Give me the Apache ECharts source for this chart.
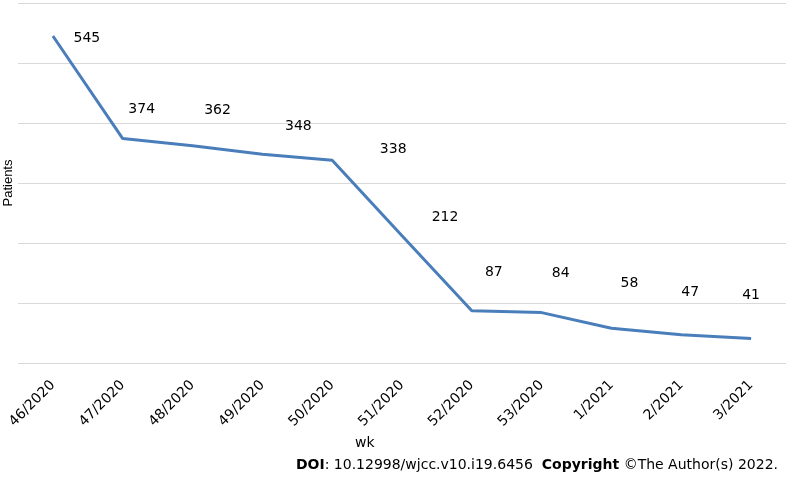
<!DOCTYPE html>
<html>
<head>
<meta charset="utf-8">
<script src="https://cdn.jsdelivr.net/npm/echarts@6/dist/echarts.min.js"></script>
<style>html,body{margin:0;padding:0;background:#fff;}#c{width:786px;height:482px;}</style>
</head>
<body>
<div id="c"></div>
<script>
var categories = ['46/2020','47/2020','48/2020','49/2020','50/2020','51/2020','52/2020','53/2020','1/2021','2/2021','3/2021'];
var patients = [545, 374, 362, 348, 338, 212, 87, 84, 58, 47, 41];
var yTicks = {min: 0, max: 600, interval: 100};

// label placement offsets (styling only)
var labelOffsets = [[34,2],[19,-29],[25,-35],[36,-28],[61,-11],[43,-18],[22,-38],[19,-39],[18,-45],[9,-42],[0,-43]];

var chart = echarts.init(document.getElementById('c'));
var data = patients.map(function(v, i){
  return {value: v, label: {offset: labelOffsets[i]}};
});
chart.setOption({
  animation: false,
  grid: {left: 18, right: 0, top: 3, bottom: 119, containLabel: false, outerBoundsMode: 'none'},
  xAxis: {
    type: 'category',
    data: categories,
    boundaryGap: true,
    axisLine: {show: false},
    axisTick: {show: false},
    axisLabel: {rotate: 45, margin: 20, fontSize: 14, color: '#000', fontFamily: 'DejaVu Sans', interval: 0}
  },
  yAxis: {
    type: 'value',
    min: yTicks.min, max: yTicks.max, interval: yTicks.interval,
    axisLabel: {show: false},
    axisLine: {show: false},
    axisTick: {show: false},
    splitLine: {lineStyle: {color: '#d9d9d9', width: 1}},
    name: 'Patients',
    nameLocation: 'middle',
    nameRotate: 90,
    nameGap: 3,
    nameTextStyle: {fontSize: 13, color: '#000', fontFamily: 'Liberation Sans'}
  },
  series: [{
    type: 'line',
    data: data,
    symbol: 'circle',
    symbolSize: 0.1,
    showSymbol: true,
    itemStyle: {color: '#4a7ebb'},
    lineStyle: {color: '#4a7ebb', width: 3},
    label: {show: true, position: 'inside', fontSize: 14, color: '#000', fontFamily: 'DejaVu Sans'}
  }],
  graphic: [
    {type: 'text', left: 355, top: 436, style: {text: 'wk', fontSize: 14, fill: '#000', fontFamily: 'DejaVu Sans'}},
    {type: 'text', right: 8, top: 458, style: {
      text: '{b|DOI}: 10.12998/wjcc.v10.i19.6456  {b|Copyright} ©The Author(s) 2022.',
      fontSize: 14, fill: '#000', fontFamily: 'DejaVu Sans',
      rich: {b: {fontWeight: 'bold', fontSize: 14, fontFamily: 'DejaVu Sans', fill: '#000'}}
    }}
  ]
});
</script>
</body>
</html>
